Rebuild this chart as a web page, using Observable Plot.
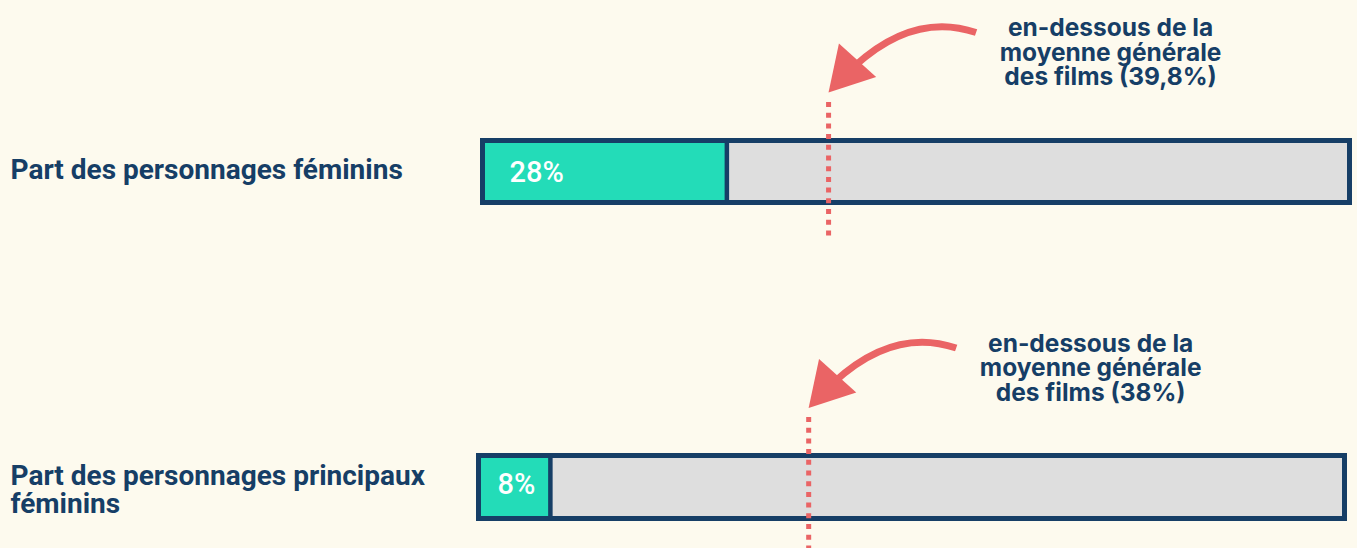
<!DOCTYPE html>
<html><head><meta charset="utf-8">
<script src="https://cdn.jsdelivr.net/npm/d3@7"></script>
<script src="https://cdn.jsdelivr.net/npm/@observablehq/plot@0.6"></script>
<style>
html,body{margin:0;padding:0;background:#FDFAEE;}
#chart{position:relative;width:1357px;height:548px;overflow:hidden;}
#chart svg{display:block;}
</style></head><body><div id="chart"></div>
<script>
// ---- data ----
const categories = ["Part des personnages féminins", "Part des personnages principaux féminins"];
const categoryLines = ["Part des personnages féminins", "Part des personnages principaux\nféminins"];
const values = [0.28, 0.08];
const valueLabels = ["28%", "8%"];
const averages = [0.398, 0.38];
const annotations = [
  "en-dessous de la\nmoyenne générale\ndes films (39,8%)",
  "en-dessous de la\nmoyenne générale\ndes films (38%)"
];

// ---- style ----
const DARK = "#163E66", TEAL = "#23DCB8", GRAY = "#DEDEDE", CORAL = "#EA6465";
const FONT = "Roboto, sans-serif";
const layout = [
  {marginLeft: 485, marginRight: 10, marginTop: 143, marginBottom: 74, pctDx: 24, pctDy: 1, labelDy: -2},
  {marginLeft: 481, marginRight: 15, marginTop: 184, marginBottom: 32, pctDx: 16, pctDy: -3, labelDy: 3}
];

const rows = categories.map((cat, i) => ({
  cat, line: categoryLines[i], value: values[i], label: valueLabels[i],
  avg: averages[i], note: annotations[i], start: 0, end: 1
}));

const chart = document.getElementById("chart");

rows.forEach((d, i) => {
  const L = layout[i];
  const data = [d];
  const curve = (index, scales) => {
    const ys = scales.y;
    const bw = typeof ys.bandwidth === "function" ? ys.bandwidth() : (scales.scales?.y?.bandwidth ?? 0);
    const cx = scales.x(d.avg);
    const cy = ys(d.cat) + bw / 2;
    return d3.create("svg:path")
      .attr("d", `M${cx + 148},${cy - 139} Q${cx + 86},${cy - 160} ${cx + 26},${cy - 105}`)
      .attr("fill", "none")
      .attr("stroke", CORAL)
      .attr("stroke-width", 7)
      .node();
  };
  const plot = Plot.plot({
    width: 1357,
    height: 274,
    marginLeft: L.marginLeft,
    marginRight: L.marginRight,
    marginTop: L.marginTop,
    marginBottom: L.marginBottom,
    style: {background: "transparent", fontFamily: FONT, overflow: "hidden"},
    x: {domain: [0, 1], axis: null},
    y: {domain: [d.cat], padding: 0, axis: null},
    marks: [
      Plot.barX(data, {x1: "start", x2: "end", y: "cat", fill: GRAY}),
      Plot.barX(data, {x1: "start", x2: "value", y: "cat", fill: TEAL}),
      Plot.tickX(data, {x: "value", y: "cat", stroke: DARK, strokeWidth: 4.5}),
      Plot.barX(data, {x1: "start", x2: "end", y: "cat", fill: "none", stroke: DARK, strokeWidth: 5,
        insetLeft: -2.5, insetRight: -2.5, insetTop: -2.5, insetBottom: -2.5}),
      Plot.text(data, {x: "start", y: "cat", text: "label", textAnchor: "start", dx: L.pctDx, dy: L.pctDy,
        fill: "white", fontSize: 29, fontWeight: 500, fontFamily: FONT}),
      Plot.text(data, {x: "start", y: "cat", text: "line", textAnchor: "start", dx: -(L.marginLeft - 10), dy: L.labelDy,
        fill: DARK, fontSize: 28, fontWeight: 700, lineHeight: 1.0, fontFamily: FONT}),
      Plot.tickX(data, {x: "avg", y: "cat", stroke: CORAL, strokeWidth: 5, strokeDasharray: "5,5.7",
        insetTop: -41, insetBottom: -36}),
      curve,
      Plot.dot(data, {x: "avg", y: "cat", symbol: "triangle", r: 18.6, fill: CORAL, stroke: "none",
        rotate: 222, dx: 19.3, dy: -101}),
      Plot.text(data, {x: "avg", y: "cat", text: "note", dx: 282, dy: -119, textAnchor: "middle",
        fill: DARK, fontSize: 24.5, fontWeight: 700, lineHeight: 1.0, fontFamily: "Inter, sans-serif"})
    ]
  });
  chart.appendChild(plot);
});
</script>
</body></html>
